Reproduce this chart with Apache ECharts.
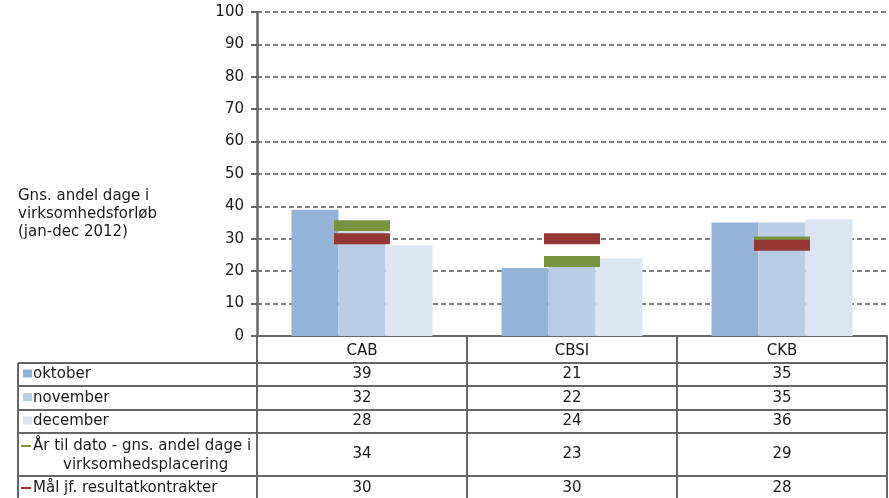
<!DOCTYPE html>
<html>
<head>
<meta charset="utf-8">
<script src="https://cdn.jsdelivr.net/npm/echarts@6/dist/echarts.min.js"></script>
<style>
  html, body { margin: 0; padding: 0; background: #fff; }
  #main { width: 889px; height: 498px; }
</style>
</head>
<body>
<div id="main"></div>
<script>
var chartDom = document.getElementById('main');
var myChart = echarts.init(chartDom);

const categories = ['CAB', 'CBSI', 'CKB'];
const oktober = [39, 21, 35];
const november = [32, 22, 35];
const december = [28, 24, 36];
const aarTilDato = [34, 23, 29];
const maal = [30, 30, 28];
const yTicks = [0, 100, 10];
const rowLabels = ['oktober', 'november', 'december',
  ['År til dato - gns. andel dage i', 'virksomhedsplacering'],
  'Mål jf. resultatkontrakter'];
const yTitle = ['Gns. andel dage i', 'virksomhedsforløb', '(jan-dec 2012)'];

const font = 'DejaVu Sans';
const fontSize = 15;
const textColor = '#1a1a1a';
const lineColor = '#666';
const colors = ['#95B3D7', '#B9CDE5', '#DCE6F2', '#77933C', '#953735'];

// layout of plot + table
const gridLeft = 257, gridTop = 12, gridW = 630, gridH = 324;
const tableLeft = 18;
const rowTops = [363, 386, 410, 433, 476, 500];
const rowData = [oktober, november, december, aarTilDato, maal];

function txt(x, y, t, align) {
  return { type: 'text', x: x, y: y,
    style: { text: t, fill: textColor, font: fontSize + 'px "' + font + '"', align: align || 'left', verticalAlign: 'middle' } };
}

function buildTable() {
  const els = [];
  const colW = gridW / categories.length;
  const right = gridLeft + gridW;
  rowTops.slice(0, 5).forEach(y => {
    els.push({ type: 'line', shape: { x1: tableLeft, y1: y, x2: right, y2: y },
      style: { stroke: lineColor, lineWidth: 2 } });
  });
  els.push({ type: 'line', shape: { x1: tableLeft, y1: rowTops[0], x2: tableLeft, y2: 500 },
    style: { stroke: lineColor, lineWidth: 2 } });
  for (let i = 0; i <= categories.length; i++) {
    const x = gridLeft + colW * i;
    els.push({ type: 'line', shape: { x1: x, y1: gridTop + gridH, x2: x, y2: 500 },
      style: { stroke: lineColor, lineWidth: 2 } });
  }
  rowLabels.forEach((label, ri) => {
    const top = rowTops[ri], bottom = rowTops[ri + 1];
    const cy = (top + bottom) / 2;
    if (ri < 3) {
      els.push({ type: 'rect', shape: { x: 23, y: cy - 5, width: 9, height: 8 }, style: { fill: colors[ri] } });
      els.push(txt(33, cy, label));
    } else if (Array.isArray(label)) {
      els.push({ type: 'rect', shape: { x: 21, y: top + 12, width: 10, height: 2 }, style: { fill: colors[ri] } });
      els.push(txt(33, top + 13, label[0]));
      els.push(txt(63, top + 32, label[1]));
    } else {
      els.push({ type: 'rect', shape: { x: 21, y: cy - 1, width: 10, height: 2 }, style: { fill: colors[ri] } });
      els.push(txt(33, cy, label));
    }
    rowData[ri].forEach((v, ci) => {
      els.push(txt(gridLeft + colW * (ci + 0.5), cy, String(v), 'center'));
    });
  });
  yTitle.forEach((t, i) => els.push(txt(18, 196 + i * 18, t)));
  return els;
}

var option = {
  animation: false,
  textStyle: { fontFamily: font },
  grid: { left: gridLeft, top: gridTop, width: gridW, height: gridH },
  xAxis: {
    type: 'category',
    data: categories,
    axisLine: { lineStyle: { color: lineColor, width: 2 } },
    axisTick: { show: false },
    axisLabel: { color: textColor, fontSize: fontSize, margin: 8 }
  },
  yAxis: {
    type: 'value',
    min: yTicks[0],
    max: yTicks[1],
    interval: yTicks[2],
    axisLine: { show: true, lineStyle: { color: lineColor, width: 2.5 } },
    axisTick: { show: true, length: 6, lineStyle: { color: lineColor, width: 2 } },
    axisLabel: { color: textColor, fontSize: fontSize, margin: 13 },
    splitLine: { lineStyle: { color: '#555', type: [5, 3], width: 1.5 } }
  },
  series: [
    { name: 'oktober', type: 'bar', data: oktober, barWidth: 47, barGap: '0%', itemStyle: { color: colors[0] } },
    { name: 'november', type: 'bar', data: november, barWidth: 47, barGap: '0%', itemStyle: { color: colors[1] } },
    { name: 'december', type: 'bar', data: december, barWidth: 47, barGap: '0%', itemStyle: { color: colors[2] } },
    { name: 'År til dato', type: 'scatter', data: aarTilDato, symbol: 'rect', symbolSize: [56, 11], z: 5,
      itemStyle: { color: colors[3], opacity: 1 } },
    { name: 'Mål', type: 'scatter', data: maal, symbol: 'rect', symbolSize: [56, 11], z: 6,
      itemStyle: { color: colors[4], opacity: 1 } }
  ],
  graphic: buildTable()
};

option && myChart.setOption(option);
</script>
</body>
</html>
